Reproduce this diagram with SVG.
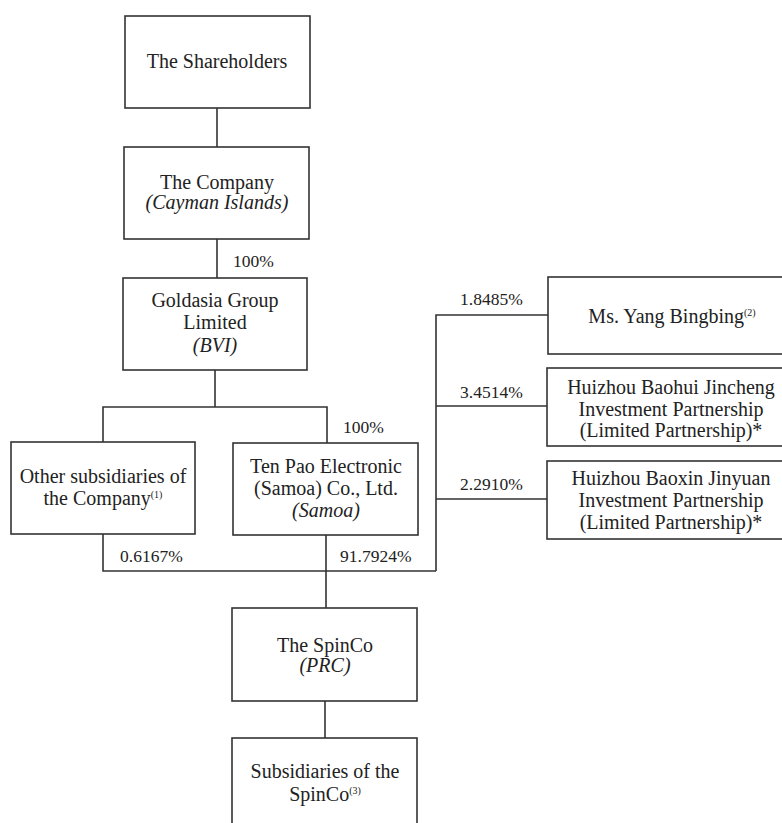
<svg xmlns="http://www.w3.org/2000/svg" width="782" height="823" viewBox="0 0 782 823">
<style>
.box{fill:#fff;stroke:#333;stroke-width:1.6}
.ln{fill:none;stroke:#333;stroke-width:1.6}
text{font-family:"Liberation Serif","Times New Roman",serif;fill:#222;text-anchor:middle}
.t{font-size:20px}
.it{font-style:italic}
.p{font-size:17.5px;text-anchor:start}
.sup{font-size:10px}
</style>
<rect width="782" height="823" fill="#fff"/>
<g id="connectors">
<path class="ln" d="M217,108 V147"/>
<path class="ln" d="M217,239 V278"/>
<path class="ln" d="M215,370 V407 M103,442 V407 H327 V443"/>
<path class="ln" d="M103,534 V571 H436 M326,535 V608"/>
<path class="ln" d="M436,571 V315 H548 M436,406 H547 M436,499 H547"/>
<path class="ln" d="M325,701 V738"/>
<text class="p" x="233" y="267">100%</text>
<text class="p" x="343" y="433">100%</text>
<text class="p" x="120" y="562">0.6167%</text>
<text class="p" x="340" y="562">91.7924%</text>
<text class="p" x="460" y="305">1.8485%</text>
<text class="p" x="460" y="398">3.4514%</text>
<text class="p" x="460" y="490">2.2910%</text>
</g>
<g id="shareholders">
<rect class="box" x="125" y="16" width="185" height="92"/>
<text class="t" x="217" y="68">The Shareholders</text>
</g>
<g id="company">
<rect class="box" x="124" y="147" width="185" height="92"/>
<text class="t" x="217" y="189">The Company</text>
<text class="t it" x="217" y="209">(Cayman Islands)</text>
</g>
<g id="goldasia">
<rect class="box" x="123" y="278" width="184" height="92"/>
<text class="t" x="215" y="307">Goldasia Group</text>
<text class="t" x="215" y="329">Limited</text>
<text class="t it" x="215" y="352">(BVI)</text>
</g>
<g id="other-subsidiaries">
<rect class="box" x="11" y="442" width="184" height="92"/>
<text class="t" x="103" y="483">Other subsidiaries of</text>
<text class="t" x="103" y="505">the Company<tspan class="sup" dy="-7">(1)</tspan></text>
</g>
<g id="tenpao">
<rect class="box" x="233" y="443" width="185" height="92"/>
<text class="t" x="326" y="473">Ten Pao Electronic</text>
<text class="t" x="326" y="495">(Samoa) Co., Ltd.</text>
<text class="t it" x="326" y="517">(Samoa)</text>
</g>
<g id="yang">
<rect class="box" x="548" y="277" width="250" height="77"/>
<text class="t" x="672" y="323">Ms. Yang Bingbing<tspan class="sup" dy="-7">(2)</tspan></text>
</g>
<g id="baohui">
<rect class="box" x="547" y="368" width="251" height="78"/>
<text class="t" x="671" y="394">Huizhou Baohui Jincheng</text>
<text class="t" x="671" y="416">Investment Partnership</text>
<text class="t" x="671" y="437">(Limited Partnership)*</text>
</g>
<g id="baoxin">
<rect class="box" x="547" y="461" width="251" height="78"/>
<text class="t" x="671" y="485">Huizhou Baoxin Jinyuan</text>
<text class="t" x="671" y="507">Investment Partnership</text>
<text class="t" x="671" y="529">(Limited Partnership)*</text>
</g>
<g id="spinco">
<rect class="box" x="232" y="608" width="185" height="93"/>
<text class="t" x="325" y="652">The SpinCo</text>
<text class="t it" x="325" y="672">(PRC)</text>
</g>
<g id="spinco-subsidiaries">
<rect class="box" x="232" y="738" width="185" height="100"/>
<text class="t" x="325" y="778">Subsidiaries of the</text>
<text class="t" x="325" y="801">SpinCo<tspan class="sup" dy="-7">(3)</tspan></text>
</g>
</svg>
